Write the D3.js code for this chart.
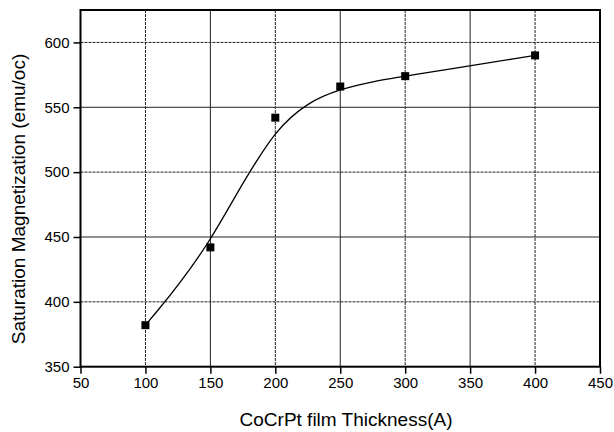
<!DOCTYPE html>
<html>
<head>
<meta charset="utf-8">
<script src="https://cdn.jsdelivr.net/npm/d3@7"></script>
<style>
  body { margin: 0; background: #fff; }
  text { font-family: "Liberation Sans", Arial, sans-serif; fill: #000; }
</style>
</head>
<body>
<div id="chart"></div>
<script>
// data
const thickness = [100, 150, 200, 250, 300, 400];
const magnetization = [382, 442, 542, 566, 574, 590];
const xTicks = [50, 100, 150, 200, 250, 300, 350, 400, 450];
const yTicks = [350, 400, 450, 500, 550, 600];

const w = 614;
const h = 432;
const margin = { top: 10, right: 14, bottom: 65, left: 80.5 };

const svg = d3.select('#chart')
  .append('svg')
  .attr('width', w)
  .attr('height', h);

const xScale = d3.scaleLinear()
  .domain([50, 450])
  .range([margin.left, w - margin.right]);
const yScale = d3.scaleLinear()
  .domain([350, 625])
  .range([h - margin.bottom - 0.3, margin.top]);

// GRID ------------------------
svg.append('g')
  .selectAll('line')
  .data(xTicks.slice(1, -1))
  .join('line')
  .attr('x1', d => xScale(d)).attr('x2', d => xScale(d))
  .attr('y1', yScale(625)).attr('y2', yScale(350))
  .attr('stroke', '#222')
  .attr('stroke-width', 1)
  .attr('stroke-dasharray', (d, i) => (i % 2 === 0 ? '3,1' : null));

svg.append('g')
  .selectAll('line')
  .data(yTicks.slice(1))
  .join('line')
  .attr('x1', xScale(50)).attr('x2', xScale(450))
  .attr('y1', d => yScale(d)).attr('y2', d => yScale(d))
  .attr('stroke', '#222')
  .attr('stroke-width', 1)
  .attr('stroke-dasharray', (d, i) => (i % 2 === 0 ? '3,1' : null));

// AXES ------------------------
const xMinor = d3.range(75, 450, 50);
const yMinor = d3.range(375, 625, 50);

const gX = svg.append('g')
  .attr('transform', `translate(0, ${yScale(350)})`);
gX.call(d3.axisBottom(xScale).tickValues(xMinor).tickSize(4).tickFormat(''));
gX.call(d3.axisBottom(xScale).tickValues(xTicks).tickSize(7).tickPadding(4));

const gY = svg.append('g')
  .attr('transform', `translate(${xScale(50)}, 0)`);
gY.call(d3.axisLeft(yScale).tickValues(yMinor).tickSize(4).tickFormat(''));
gY.call(d3.axisLeft(yScale).tickValues(yTicks).tickSize(7).tickPadding(4));

svg.selectAll('.domain').remove();
svg.selectAll('.tick line').attr('stroke', '#000').attr('stroke-width', 1.5);
svg.selectAll('.tick text')
  .style('font-family', '"Liberation Sans", Arial, sans-serif')
  .style('font-size', '15px')
  .attr('fill', '#000');

// frame
svg.append('rect')
  .attr('x', xScale(50))
  .attr('y', yScale(625))
  .attr('width', xScale(450) - xScale(50))
  .attr('height', yScale(350) - yScale(625))
  .attr('fill', 'none')
  .attr('stroke', '#000')
  .attr('stroke-width', 2);

// CURVE + POINTS --------------
const data = thickness.map((t, i) => ({ t: t, m: magnetization[i] }));

const line = d3.line()
  .x(d => xScale(d.t))
  .y(d => yScale(d.m))
  .curve(d3.curveBasis);

svg.append('path')
  .datum(data)
  .attr('d', line)
  .attr('fill', 'none')
  .attr('stroke', '#000')
  .attr('stroke-width', 1.3);

const s = 8;
svg.append('g')
  .selectAll('rect')
  .data(data)
  .join('rect')
  .attr('x', d => xScale(d.t) - s / 2)
  .attr('y', d => yScale(d.m) - s / 2)
  .attr('width', s)
  .attr('height', s)
  .attr('fill', '#000');

// LABELS ----------------------
svg.append('text')
  .attr('x', 346)
  .attr('y', 426)
  .attr('text-anchor', 'middle')
  .style('font-size', '19px')
  .text('CoCrPt film Thickness(A)');

svg.append('text')
  .attr('transform', 'translate(25, 199) rotate(-90)')
  .attr('text-anchor', 'middle')
  .style('font-size', '19px')
  .text('Saturation Magnetization (emu/oc)');
</script>
</body>
</html>
